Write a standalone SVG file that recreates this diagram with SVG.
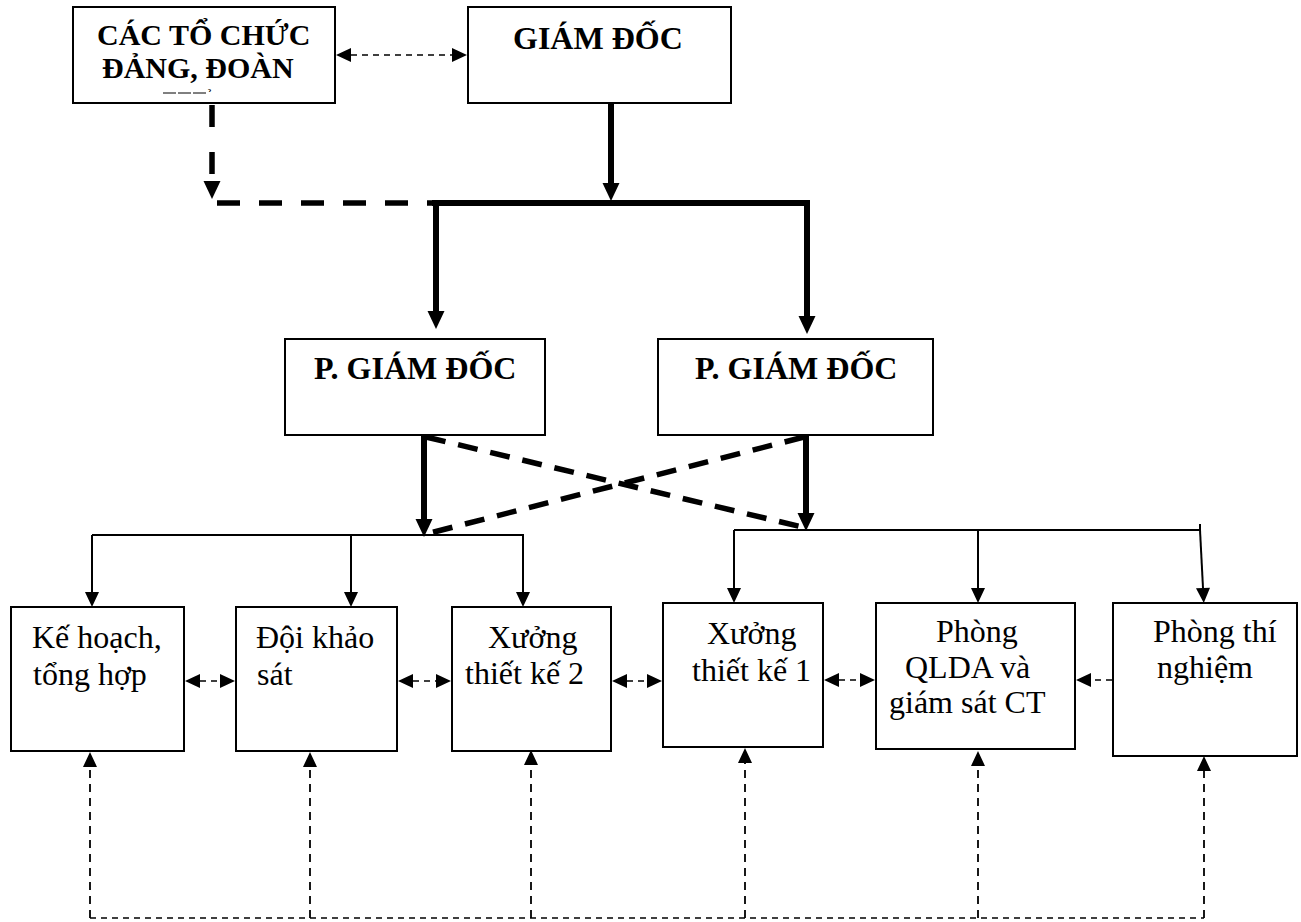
<svg xmlns="http://www.w3.org/2000/svg" width="1301" height="922" viewBox="0 0 1301 922">
<style>
.box{fill:#fff;stroke:#000;stroke-width:2}
.b{font-family:"Liberation Serif","Times New Roman",serif;font-weight:bold;font-size:32px;fill:#000}
.r{font-family:"Liberation Serif","Times New Roman",serif;font-size:32px;fill:#000}
.thin{stroke:#000;stroke-width:2;fill:none}
.thick{stroke:#000;stroke-width:6;fill:none}
.tdash{stroke:#000;stroke-width:5.5;fill:none;stroke-dasharray:22 16}
.dot{stroke:#000;stroke-width:1.7;fill:none;stroke-dasharray:6 5}
.vdot{stroke:#000;stroke-width:1.8;fill:none;stroke-dasharray:8 6}
</style>
<defs>
<marker id="a" markerUnits="userSpaceOnUse" markerWidth="15" markerHeight="14" refX="0" refY="7" orient="auto-start-reverse" overflow="visible"><path d="M0,0 L15,7 L0,14 z" fill="#000"/></marker>
<marker id="A" markerUnits="userSpaceOnUse" markerWidth="18" markerHeight="17" refX="0" refY="8.5" orient="auto" overflow="visible"><path d="M0,0 L18,8.5 L0,17 z" fill="#000"/></marker>
</defs>

<g id="to-chuc-dang-doan">
<rect class="box" x="73" y="7" width="262" height="96"/>
<text class="b" x="97" y="45" style="font-size:30px">CÁC TỔ CHỨC</text>
<text class="b" x="102" y="78" style="font-size:30px">ĐẢNG, ĐOÀN</text>
<line x1="163" y1="93" x2="207" y2="93" stroke="#000" stroke-width="1" stroke-dasharray="13 2"/>
<text x="208" y="101" style="font-family:'Liberation Serif',serif;font-size:13px">&#160;&#x0309;</text>
</g>

<g id="giam-doc">
<rect class="box" x="468" y="7" width="263" height="96"/>
<text class="b" x="513" y="49">GIÁM ĐỐC</text>
</g>

<g id="pho-giam-doc-1">
<rect class="box" x="285" y="339" width="260" height="96"/>
<text class="b" x="314" y="379">P. GIÁM ĐỐC</text>
</g>

<g id="pho-giam-doc-2">
<rect class="box" x="658" y="339" width="275" height="96"/>
<text class="b" x="695" y="379">P. GIÁM ĐỐC</text>
</g>

<g id="ke-hoach">
<rect class="box" x="11" y="607" width="173" height="144"/>
<text class="r" x="32" y="648">Kế hoạch,</text>
<text class="r" x="33" y="685">tổng hợp</text>
</g>

<g id="doi-khao-sat">
<rect class="box" x="236" y="607" width="161" height="144"/>
<text class="r" x="256" y="648">Đội khảo</text>
<text class="r" x="257" y="685">sát</text>
</g>

<g id="xuong-2">
<rect class="box" x="452" y="607" width="159" height="144"/>
<text class="r" x="488" y="648">Xưởng</text>
<text class="r" x="465" y="684">thiết kế 2</text>
</g>

<g id="xuong-1">
<rect class="box" x="663" y="603" width="160" height="144"/>
<text class="r" x="707" y="644">Xưởng</text>
<text class="r" x="692" y="681">thiết kế 1</text>
</g>

<g id="qlda">
<rect class="box" x="876" y="603" width="199" height="146"/>
<text class="r" x="936" y="642">Phòng</text>
<text class="r" x="905" y="678">QLDA và</text>
<text class="r" x="889" y="713">giám sát CT</text>
</g>

<g id="thi-nghiem">
<rect class="box" x="1113" y="603" width="184" height="153"/>
<text class="r" x="1153" y="642">Phòng thí</text>
<text class="r" x="1157" y="678">nghiệm</text>
</g>

<g id="connectors">
<path class="dot" d="M351,55 H452" marker-start="url(#a)" marker-end="url(#a)"/>
<path class="tdash" style="stroke-dasharray:22 25" d="M212,105 V181" marker-end="url(#A)"/>
<path class="tdash" style="stroke-dasharray:23 19" d="M217,203 H435"/>
<path class="thick" d="M432,203 H810"/>
<path class="thick" d="M611,103 V183" marker-end="url(#A)"/>
<path class="thick" d="M436,203 V311" marker-end="url(#A)"/>
<path class="thick" d="M807,203 V316" marker-end="url(#A)"/>
<path class="thick" d="M424,436 V519" marker-end="url(#A)"/>
<path class="thick" d="M806,436 V513" marker-end="url(#A)"/>
<path class="tdash" style="stroke-dasharray:20 13" d="M426,437 L802,527"/>
<path class="tdash" style="stroke-dasharray:20 13" d="M804,437 L430,533"/>

<path class="thin" d="M92,535 H524"/>
<path class="thin" d="M92,535 V592" marker-end="url(#a)"/>
<path class="thin" d="M351,535 V592" marker-end="url(#a)"/>
<path class="thin" d="M523,535 V592" marker-end="url(#a)"/>
<path class="thin" d="M734,530 H1201"/>
<path class="thin" d="M1200,524 V530"/>
<path class="thin" d="M734,530 V588" marker-end="url(#a)"/>
<path class="thin" d="M978,530 V588" marker-end="url(#a)"/>
<path class="thin" d="M1200,530 L1203,588" marker-end="url(#a)"/>

<path class="dot" d="M200,681 H220" marker-start="url(#a)" marker-end="url(#a)"/>
<path class="dot" d="M413,681 H436" marker-start="url(#a)" marker-end="url(#a)"/>
<path class="dot" d="M627,681 H647" marker-start="url(#a)" marker-end="url(#a)"/>
<path class="dot" d="M839,680 H860" marker-start="url(#a)" marker-end="url(#a)"/>
<path class="dot" d="M1112,680 H1091" marker-end="url(#a)"/>

<path class="vdot" d="M90,918 V767" marker-end="url(#a)"/>
<path class="vdot" d="M310,918 V767" marker-end="url(#a)"/>
<path class="vdot" d="M531,918 V765" marker-end="url(#a)"/>
<path class="vdot" d="M745,918 V763" marker-end="url(#a)"/>
<path class="vdot" d="M978,918 V766" marker-end="url(#a)"/>
<path class="vdot" d="M1204,918 V771" marker-end="url(#a)"/>
<path class="dot" d="M90,918 H1204"/>
</g>
</svg>
